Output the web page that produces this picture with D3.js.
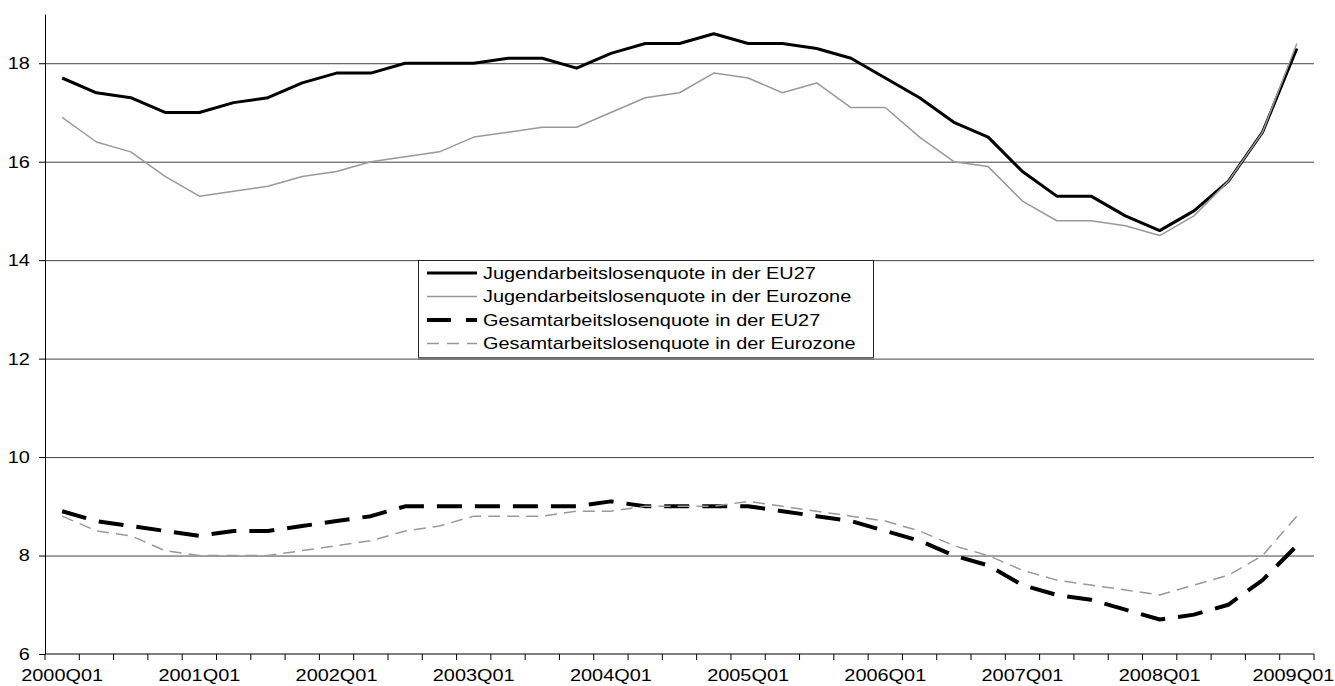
<!DOCTYPE html>
<html>
<head>
<meta charset="utf-8">
<script src="https://cdn.jsdelivr.net/npm/d3@7"></script>
<style>
  body { margin: 0; background: #fff; }
  svg { display: block; font-family: "Liberation Sans", Arial, sans-serif; }
</style>
</head>
<body>
<div id="chart"></div>
<script>
    "use strict";

    // Quartale 2000Q01 .. 2009Q01
    var quarters = [
        "2000Q01", "2000Q02", "2000Q03", "2000Q04",
        "2001Q01", "2001Q02", "2001Q03", "2001Q04",
        "2002Q01", "2002Q02", "2002Q03", "2002Q04",
        "2003Q01", "2003Q02", "2003Q03", "2003Q04",
        "2004Q01", "2004Q02", "2004Q03", "2004Q04",
        "2005Q01", "2005Q02", "2005Q03", "2005Q04",
        "2006Q01", "2006Q02", "2006Q03", "2006Q04",
        "2007Q01", "2007Q02", "2007Q03", "2007Q04",
        "2008Q01", "2008Q02", "2008Q03", "2008Q04",
        "2009Q01"
    ];

    var youthEU27 = [
        17.7, 17.4, 17.3, 17.0, 17.0, 17.2, 17.3, 17.6,
        17.8, 17.8, 18.0, 18.0, 18.0, 18.1, 18.1, 17.9,
        18.2, 18.4, 18.4, 18.6, 18.4, 18.4, 18.3, 18.1,
        17.7, 17.3, 16.8, 16.5, 15.8, 15.3, 15.3, 14.9,
        14.6, 15.0, 15.6, 16.6, 18.3
    ];
    var youthEuro = [
        16.9, 16.4, 16.2, 15.7, 15.3, 15.4, 15.5, 15.7,
        15.8, 16.0, 16.1, 16.2, 16.5, 16.6, 16.7, 16.7,
        17.0, 17.3, 17.4, 17.8, 17.7, 17.4, 17.6, 17.1,
        17.1, 16.5, 16.0, 15.9, 15.2, 14.8, 14.8, 14.7,
        14.5, 14.9, 15.6, 16.6, 18.4
    ];
    var totalEU27 = [
        8.9, 8.7, 8.6, 8.5, 8.4, 8.5, 8.5, 8.6,
        8.7, 8.8, 9.0, 9.0, 9.0, 9.0, 9.0, 9.0,
        9.1, 9.0, 9.0, 9.0, 9.0, 8.9, 8.8, 8.7,
        8.5, 8.3, 8.0, 7.8, 7.4, 7.2, 7.1, 6.9,
        6.7, 6.8, 7.0, 7.5, 8.2
    ];
    var totalEuro = [
        8.8, 8.5, 8.4, 8.1, 8.0, 8.0, 8.0, 8.1,
        8.2, 8.3, 8.5, 8.6, 8.8, 8.8, 8.8, 8.9,
        8.9, 9.0, 9.0, 9.0, 9.1, 9.0, 8.9, 8.8,
        8.7, 8.5, 8.2, 8.0, 7.7, 7.5, 7.4, 7.3,
        7.2, 7.4, 7.6, 8.0, 8.8
    ];

    var yTicks = [6, 8, 10, 12, 14, 16, 18];
    var xLabels = ["2000Q01", "2001Q01", "2002Q01", "2003Q01", "2004Q01",
                   "2005Q01", "2006Q01", "2007Q01", "2008Q01", "2009Q01"];

    var series = [
        { name: "Jugendarbeitslosenquote in der EU27", values: youthEU27, color: "#000", width: 3, dash: null, legendDash: null },
        { name: "Jugendarbeitslosenquote in der Eurozone", values: youthEuro, color: "#999", width: 1.5, dash: null, legendDash: null },
        { name: "Gesamtarbeitslosenquote in der EU27", values: totalEU27, color: "#000", width: 4, dash: "25,13", legendDash: "24,15" },
        { name: "Gesamtarbeitslosenquote in der Eurozone", values: totalEuro, color: "#999", width: 1.5, dash: "12,7", legendDash: "12,8" }
    ];

    (function () {
        var W = 1335, H = 686;
        var padL = 45, padR = 1314, padT = 14, padB = 654;
        var stretch = "scale(1.17,1)";

        var svg = d3.select("#chart").append("svg")
            .attr("width", W)
            .attr("height", H);

        svg.append("rect").attr("width", W).attr("height", H).attr("fill", "#fff");

        var x = d3.scaleBand().domain(quarters).range([padL, padR]);
        var y = d3.scaleLinear().domain([6, 19]).range([padB, padT]);
        var cx = function (q) { return x(q) + x.bandwidth() / 2; };

        // Gitterlinien
        svg.append("g")
            .attr("transform", "translate(" + padL + ",0)")
            .call(d3.axisLeft(y).tickValues(yTicks.slice(1)).tickSize(-(padR - padL)).tickFormat(""))
            .call(function (g) {
                g.select(".domain").remove();
                g.selectAll("line").attr("stroke", "#444").attr("stroke-width", 1);
            });

        // y-Achse
        svg.append("g")
            .attr("transform", "translate(" + padL + ",0)")
            .call(d3.axisLeft(y).tickValues(yTicks).tickSize(6).tickPadding(7).tickSizeOuter(0))
            .call(function (g) {
                g.select(".domain").attr("stroke", "#000");
                g.selectAll("line").attr("stroke", "#000");
                g.selectAll("text")
                    .attr("font-size", 17)
                    .attr("fill", "#000")
                    .attr("font-family", "Liberation Sans, Arial, sans-serif")
                    .attr("transform", stretch);
            });

        // x-Achse: Beschriftung
        svg.append("g")
            .attr("transform", "translate(0," + padB + ")")
            .call(d3.axisBottom(x).tickValues(xLabels).tickSize(0).tickPadding(15))
            .call(function (g) {
                g.select(".domain").attr("stroke", "#000").attr("d", "M" + padL + ",0H" + padR);
                g.selectAll("text")
                    .attr("font-size", 17)
                    .attr("fill", "#000")
                    .attr("font-family", "Liberation Sans, Arial, sans-serif")
                    .attr("transform", stretch);
                // letzte Beschriftung etwas nach links, damit sie nicht abgeschnitten wird
                g.selectAll("text").filter(function (d) { return d === "2009Q01"; })
                    .attr("x", -3);
            });

        // x-Achse: Teilstriche zwischen den Kategorien
        var tickPos = quarters.map(function (q) { return x(q); }).concat([x.range()[1]]);
        svg.append("g").selectAll("line")
            .data(tickPos)
            .join("line")
            .attr("x1", function (d) { return d; })
            .attr("x2", function (d) { return d; })
            .attr("y1", padB)
            .attr("y2", padB + 6)
            .attr("stroke", "#000");

        // Linien
        var line = d3.line()
            .x(function (d, i) { return cx(quarters[i]); })
            .y(function (d) { return y(d); });

        svg.append("g").selectAll("path")
            .data(series)
            .join("path")
            .attr("d", function (s) { return line(s.values); })
            .attr("fill", "none")
            .attr("stroke", function (s) { return s.color; })
            .attr("stroke-width", function (s) { return s.width; })
            .attr("stroke-dasharray", function (s) { return s.dash; })
            .attr("stroke-linejoin", "round");

        // Legende
        var lg = svg.append("g");
        lg.append("rect")
            .attr("x", 418.5).attr("y", 260.5)
            .attr("width", 455).attr("height", 97)
            .attr("fill", "#fff")
            .attr("stroke", "#222")
            .attr("stroke-width", 1);
        lg.append("line")
            .attr("x1", 418).attr("x2", 874)
            .attr("y1", 358.5).attr("y2", 358.5)
            .attr("stroke", "#777").attr("stroke-width", 2.5);

        var rows = lg.selectAll("g.row")
            .data(series)
            .join("g")
            .attr("class", "row")
            .attr("transform", function (d, i) { return "translate(0," + (273 + i * 23.5) + ")"; });

        rows.append("line")
            .attr("x1", 427).attr("x2", 477)
            .attr("y1", 0).attr("y2", 0)
            .attr("stroke", function (s) { return s.color; })
            .attr("stroke-width", function (s) { return s.width; })
            .attr("stroke-dasharray", function (s) { return s.legendDash; });

        rows.append("text")
            .attr("transform", "translate(483,0) " + stretch)
            .attr("dy", "0.35em")
            .attr("font-size", 17)
            .attr("fill", "#000")
            .text(function (s) { return s.name; });
    })();
</script>
</body>
</html>
